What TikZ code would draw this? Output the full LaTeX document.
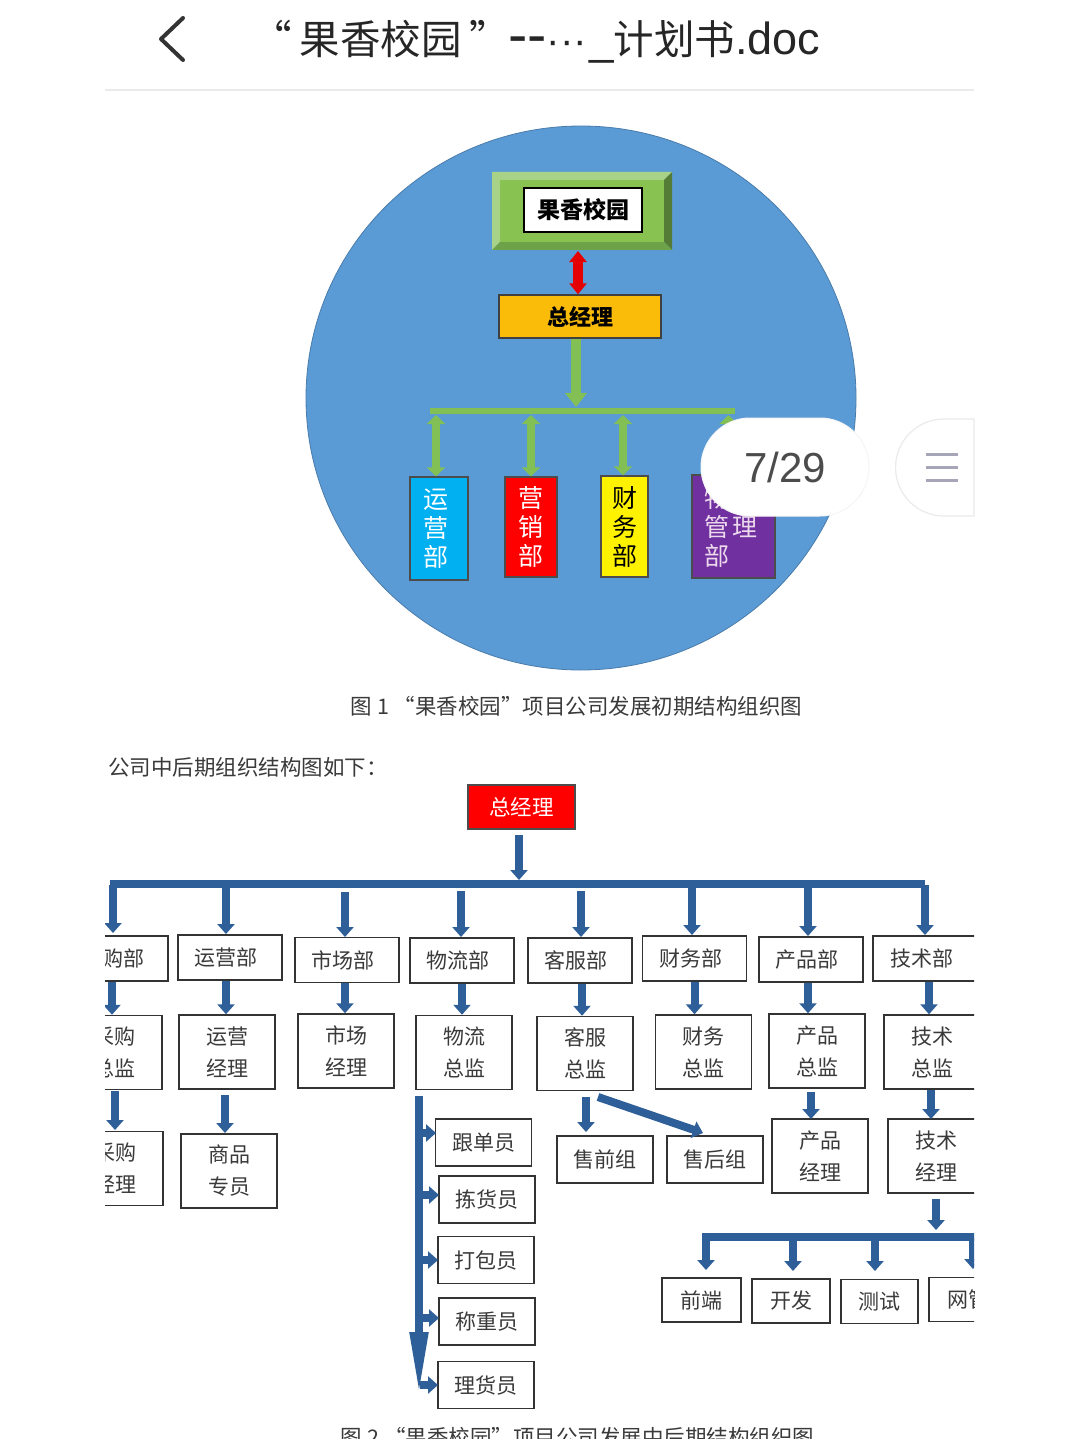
\documentclass[tikz,border=0pt]{standalone}
\usepackage{fontspec}
\setmainfont{Noto Sans CJK SC}
\newfontfamily\latinsans{Liberation Sans}
\usetikzlibrary{arrows.meta}
\definecolor{circleblue}{HTML}{5B9BD5}
\definecolor{barblue}{HTML}{2F5F98}
\definecolor{leafgreen}{HTML}{82BF55}
\definecolor{inktext}{HTML}{3A3A3A}
\tikzset{
  bigfont/.style={font=\fontsize{21.5}{32}\selectfont},
  orgbox/.style={draw=black!80, line width=1.5pt, fill=white, inner sep=0pt, align=center, text=inktext, font=\fontsize{21}{32}\selectfont},
  deptbox/.style={orgbox, minimum width=104, minimum height=45, execute at end node={\kern8pt}},
  leadbox/.style={orgbox, minimum width=96, minimum height=74, text width=90, execute at end node={\par\vskip-6pt}},
  staffbox/.style={orgbox, minimum width=96, minimum height=47},
  techbox/.style={orgbox, minimum width=78, minimum height=44},
  colbox/.style={draw=black!70, line width=1.4pt, inner sep=0pt, align=center, font=\fontsize{25}{29}\selectfont},
  bluearrow/.style={draw=barblue, line width=8pt, -{Triangle[width=17pt,length=10pt]}},
  greenarrow/.style={draw=leafgreen, line width=8pt, {Triangle[width=18pt,length=9pt]}-{Triangle[width=18pt,length=9pt]}}
}
\begin{document}
\begin{tikzpicture}[x=1pt, y=-1pt]
  \useasboundingbox (0,0) rectangle (1080,1439);
  \fill[white] (0,0) rectangle (1080,1439);
  % header of the viewer
  \draw[line width=4pt, black!80, line join=round, line cap=round] (183,18) -- (161,39) -- (183,60);
  \node[anchor=west, inner sep=0pt, text=black!85, font=\fontsize{40.5}{44}\selectfont] (doctitle) at (251,42) {“\hspace{8pt}果香校园\hspace{8pt}”\hspace{-2pt}{\latinsans\fontsize{58}{44}\selectfont --}{\latinsans ···}\hspace{2pt}{\latinsans\fontsize{44}{44}\selectfont\_}计划书{\latinsans\fontsize{45}{44}\selectfont .doc}};
  \draw[line width=1.5pt, black!8] (105,90) -- (974,90);

  % first chart: blue disc
  \draw[fill=circleblue, draw=circleblue!80!black, line width=0.8pt] (581,398) ellipse (275 and 272);
  % bevelled frame round the project name
  \fill[leafgreen!70!white] (492,172) -- (672,172) -- (664,180) -- (500,180) -- (500,242) -- (492,250) -- cycle;
  \fill[leafgreen!65!black] (672,172) -- (672,250) -- (664,242) -- (664,180) -- cycle;
  \fill[leafgreen!85!black] (492,250) -- (672,250) -- (664,242) -- (500,242) -- cycle;
  \fill[leafgreen!95!yellow] (500,180) rectangle (664,242);
  \node[draw=black, line width=1.2pt, fill=white, minimum width=118, minimum height=44, inner sep=0pt, font=\fontsize{23}{28}\selectfont\bfseries] (project) at (583,210) {果香校园};
  % general manager
  \node[draw=black!75, line width=1.4pt, fill=yellow!50!orange, minimum width=162, minimum height=43, inner sep=0pt, font=\fontsize{22}{26}\selectfont\bfseries] (gm) at (580,316.5) {总经理};
  \coordinate (framebottom) at (578,251);
  \draw[draw=red!90!black, line width=10pt, {Triangle[width=17pt,length=11pt]}-{Triangle[width=17pt,length=11pt]}] (framebottom) -- (framebottom |- gm.north);
  % green bar under the manager
  \fill[leafgreen] (430,408) rectangle (735,414);
  \coordinate (bartop) at (576,407);
  \draw[draw=leafgreen, line width=10pt, -{Triangle[width=21pt,length=14pt]}] (bartop |- gm.south) -- (bartop);
  % departments
  \node[colbox, fill={rgb,255:red,0;green,176;blue,240}, text=white, minimum width=58, minimum height=103] (yunying) at (439,528.5) {运\kern6pt\\营\kern6pt\\部\kern6pt};
  \node[colbox, fill=red, text=white, minimum width=52, minimum height=100] (yingxiao) at (531,527) {营\\销\\部};
  \node[colbox, fill=yellow, text=black, minimum width=47, minimum height=101] (caiwu) at (624.5,526.5) {财\\务\\部};
  \node[colbox, fill={rgb,255:red,112;green,48;blue,160}, text=white!85!violet, minimum width=83, minimum height=103, align=left] (wuliu) at (733.5,526.5) {物流\\管\hspace{3pt}理\kern5pt\\部};
  \draw[greenarrow] ([xshift=-3]yunying.north |- 0,415) -- ([xshift=-3]yunying.north);
  \draw[greenarrow] (yingxiao.north |- 0,415) -- (yingxiao.north);
  \draw[greenarrow] ([xshift=-1.5]caiwu.north |- 0,415) -- ([xshift=-1.5]caiwu.north);
  \draw[greenarrow] ([xshift=-5]wuliu.north |- 0,415) -- ([xshift=-5]wuliu.north);

  % page counter and menu pills
  \node[draw=black!4, line width=1pt, fill=white, rounded corners=49, minimum width=168, minimum height=98, inner sep=0pt, text=black!70, font=\latinsans\fontsize{42}{46}\selectfont] (pagecount) at (785,467) {7/29};
  \draw[draw=black!8, line width=1.2pt, fill=white] (974,419) -- (944,419) arc (-90:-270:48.5) -- (974,516) -- cycle;
  \draw[line width=3pt, blue!20!black!35] (926,454) -- (958,454);
  \draw[line width=3pt, blue!20!black!35] (926,467) -- (958,467);
  \draw[line width=3pt, blue!20!black!35] (926,480) -- (958,480);

  % captions
  \node[text=inktext, bigfont] (captionone) at (576.5,706) {图 1 “果香校园”项目公司发展初期结构组织图};
  \node[anchor=west, inner sep=0pt, text=inktext, bigfont] (intro) at (108,767) {公司中后期组织结构图如下：};

  % second chart, cut off by the page edges
  \begin{scope}
    \clip (105,775) rectangle (974,1439);
    \node[draw=black!70, line width=1.4pt, fill=red, text=white, bigfont, minimum width=107, minimum height=44, inner sep=0pt] (ceo) at (521.5,807) {总经理};
    \node[fill=barblue, inner sep=0pt, minimum width=815, minimum height=8] (topbus) at (517.5,884) {};
    \draw[bluearrow] (519,835) -- (519,880);
    % departments
    \node[deptbox, minimum width=102] (caigou) at (117,958.5) {采购部};
    \node[deptbox] (yunyingbu) at (230,957.5) {运营部};
    \node[deptbox] (shichang) at (347,960) {市场部};
    \node[deptbox] (wuliubu) at (462,960.5) {物流部};
    \node[deptbox] (kefu) at (580,960.5) {客服部};
    \node[deptbox] (caiwubu) at (694.5,958.5) {财务部};
    \node[deptbox] (chanpin) at (811,959.5) {产品部};
    \node[deptbox, minimum width=106] (jishu) at (926,958.5) {技术部};
    \draw[bluearrow] (113,885) -- (113,933);
    \draw[bluearrow] (226,885) -- (226,934);
    \draw[bluearrow] (345,892) -- (345,937);
    \draw[bluearrow] (461,891) -- (461,937);
    \draw[bluearrow] (581,891) -- (581,937);
    \draw[bluearrow] (692,885) -- (692,935);
    \draw[bluearrow] (808,885) -- (808,936);
    \draw[bluearrow] (925,885) -- (925,935);
    % heads of the departments
    \node[leadbox] (caigouzj) at (114,1052.5) {采购\\总监};
    \node[leadbox] (yunyingjl) at (227,1052) {运营\\经理};
    \node[leadbox] (shichangjl) at (346,1051) {市场\\经理};
    \node[leadbox] (wuliuzj) at (464,1052.5) {物流\\总监};
    \node[leadbox] (kefuzj) at (585,1053.5) {客服\\总监};
    \node[leadbox] (caiwuzj) at (703.5,1052) {财务\\总监};
    \node[leadbox] (chanpinzj) at (817,1051) {产品\\总监};
    \node[leadbox] (jishuzj) at (932,1052) {技术\\总监};
    \draw[bluearrow] ([xshift=-5]caigou.south) -- ([xshift=-5]caigou.south |- caigouzj.north);
    \draw[bluearrow] ([xshift=-4]yunyingbu.south) -- ([xshift=-4]yunyingbu.south |- yunyingjl.north);
    \draw[bluearrow] ([xshift=-2]shichang.south) -- ([xshift=-2]shichang.south |- shichangjl.north);
    \draw[bluearrow] (wuliubu.south) -- (wuliubu.south |- wuliuzj.north);
    \draw[bluearrow] ([xshift=2]kefu.south) -- ([xshift=2]kefu.south |- kefuzj.north);
    \draw[bluearrow] (caiwubu.south) -- (caiwubu.south |- caiwuzj.north);
    \draw[bluearrow] ([xshift=-3]chanpin.south) -- ([xshift=-3]chanpin.south |- chanpinzj.north);
    \draw[bluearrow] ([xshift=3]jishu.south) -- ([xshift=3]jishu.south |- jishuzj.north);
    % third level
    \node[leadbox] (caigoujl) at (115,1168.5) {采购\\经理};
    \node[leadbox] (shangpin) at (229,1171) {商品\\专员};
    \node[leadbox] (chanpinjl) at (820,1156) {产品\\经理};
    \node[leadbox] (jishujl) at (936,1156) {技术\\经理};
    \node[staffbox] (shouqian) at (605,1159.5) {售前组};
    \node[staffbox] (shouhou) at (715,1159.5) {售后组};
    \draw[bluearrow] (115,1091) -- (115,1130);
    \draw[bluearrow] (225,1095) -- (225,1133);
    \draw[bluearrow] (586,1097) -- (586,1132);
    \draw[bluearrow] (598,1097) -- (703,1133);
    \draw[bluearrow] (811,1092) -- (811,1119);
    \draw[bluearrow] (931,1090) -- (931,1119);
    % warehouse staff along the long arrow
    \node[staffbox] (gendan) at (483.5,1142.5) {跟单员};
    \node[staffbox] (jianhuo) at (487,1199.5) {拣货员};
    \node[staffbox] (dabao) at (486,1260) {打包员};
    \node[staffbox] (chengzhong) at (487,1321.5) {称重员};
    \node[staffbox] (lihuo) at (486,1385) {理货员};
    \draw[draw=barblue, line width=8pt, -{Triangle[width=17pt,length=64pt]}] (419,1096) -- (419,1396);
    \draw[bluearrow] (420,1133) -- (436,1133);
    \draw[bluearrow] (420,1195) -- (439,1195);
    \draw[bluearrow] (420,1260) -- (438,1260);
    \draw[bluearrow] (420,1318) -- (439,1318);
    \draw[bluearrow] (420,1385) -- (438,1385);
    % technical teams
    \node[fill=barblue, inner sep=0pt, minimum width=280, minimum height=8] (techbus) at (842,1237) {};
    \draw[bluearrow] (936,1199) -- (936,1230);
    \node[techbox, minimum width=79] (qianduan) at (701.5,1300) {前端};
    \node[techbox] (kaifa) at (791,1301) {开发};
    \node[techbox, minimum width=77] (ceshi) at (879.5,1301.5) {测试};
    \node[techbox] (wangguan) at (968,1299.5) {网管};
    \draw[bluearrow] (706,1238) -- (706,1270);
    \draw[bluearrow] (793,1238) -- (793,1271);
    \draw[bluearrow] (875,1238) -- (875,1271);
    \draw[bluearrow] (973,1238) -- (973,1269);
  \end{scope}
  \node[text=inktext, bigfont] (captiontwo) at (577.5,1437) {图 2 “果香校园”项目公司发展中后期结构组织图};
\end{tikzpicture}
\end{document}
